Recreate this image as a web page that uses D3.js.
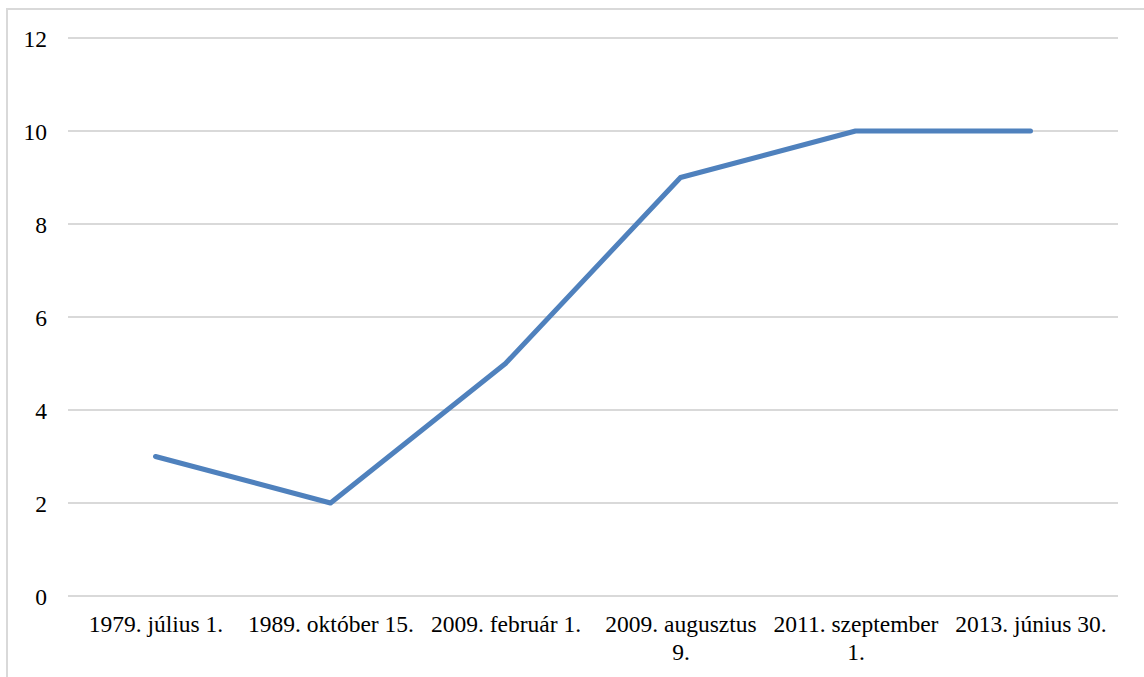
<!DOCTYPE html>
<html>
<head>
<meta charset="utf-8">
<style>
    body { margin: 0; background: #fff; }
    .grid line { stroke: #d9d9d9; stroke-width: 2px; }
    .axis text { font-family: "Liberation Serif", "Times New Roman", serif; font-size: 23.5px; fill: #000; }
    .line { fill: none; stroke: #4f81bd; stroke-width: 5px; stroke-linejoin: round; stroke-linecap: round; }
</style>
</head>
<body>
<svg width="1144" height="677"></svg>
<script src="https://d3js.org/d3.v7.min.js"></script>
<script>
    var categories = ["1979. július 1.", "1989. október 15.", "2009. február 1.",
        "2009. augusztus 9.", "2011. szeptember 1.", "2013. június 30."];
    // tick labels as they are broken onto lines in the chart
    var tickLines = [["1979. július 1."], ["1989. október 15."], ["2009. február 1."],
        ["2009. augusztus", "9."], ["2011. szeptember", "1."], ["2013. június 30."]];
    var values = [3, 2, 5, 9, 10, 10];
    var yTicks = [0, 2, 4, 6, 8, 10, 12];

    var svg = d3.select("svg");

    // chart border (runs off the right and bottom edge)
    svg.append("rect")
        .attr("x", 7).attr("y", 9)
        .attr("width", 1200).attr("height", 700)
        .attr("fill", "none")
        .attr("stroke", "#d9d9d9")
        .attr("stroke-width", 2);

    var plotLeft = 68, plotRight = 1118, plotTop = 38, plotBottom = 596;

    var x = d3.scalePoint()
        .domain(categories)
        .range([plotLeft, plotRight])
        .padding(0.5);

    var y = d3.scaleLinear()
        .domain([0, 12])
        .range([plotBottom, plotTop]);

    // gridlines
    svg.append("g")
        .attr("class", "grid")
        .selectAll("line")
        .data(yTicks)
        .enter().append("line")
        .attr("x1", plotLeft).attr("x2", plotRight)
        .attr("y1", function(d) { return y(d); })
        .attr("y2", function(d) { return y(d); });

    // y axis labels
    var yAxis = d3.axisLeft(y)
        .tickValues(yTicks)
        .tickSize(0)
        .tickPadding(0);

    svg.append("g")
        .attr("class", "axis")
        .attr("transform", "translate(47,0)")
        .call(yAxis)
        .call(function(g) { g.select(".domain").remove(); })
        .selectAll(".tick text")
        .attr("dy", "0.34em");

    // x axis labels
    var xAxis = d3.axisBottom(x)
        .tickSize(0)
        .tickPadding(0);

    svg.append("g")
        .attr("class", "axis")
        .attr("transform", "translate(0," + plotBottom + ")")
        .call(xAxis)
        .call(function(g) { g.select(".domain").remove(); })
        .selectAll(".tick text")
        .each(function(d, i) {
            var text = d3.select(this).text(null).attr("y", 0).attr("dy", null);
            tickLines[i].forEach(function(l, j) {
                text.append("tspan")
                    .attr("x", 0)
                    .attr("y", 36 + j * 28)
                    .text(l);
            });
        });

    var line = d3.line()
        .x(function(d, i) { return x(categories[i]); })
        .y(function(d) { return y(d); });

    svg.append("path")
        .datum(values)
        .attr("class", "line")
        .attr("d", line);
</script>
</body>
</html>
